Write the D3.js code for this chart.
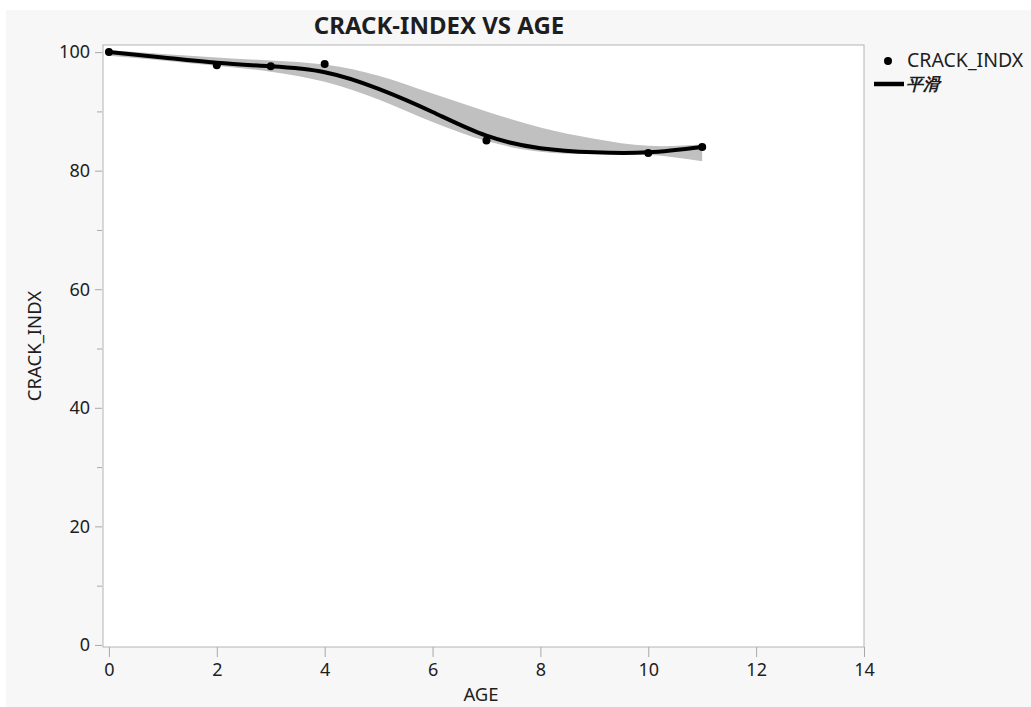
<!DOCTYPE html>
<html>
<head>
<meta charset="utf-8">
<script src="https://cdn.jsdelivr.net/npm/d3@7"></script>
<style>
  html, body { margin: 0; padding: 0; background: #ffffff; }
  svg { display: block; }
  text { font-family: "Noto Sans", "Open Sans", sans-serif; fill: #1e1e1e; }
</style>
</head>
<body>
<svg id="chart" width="1031" height="707"></svg>
<script>
// Observed crack index by pavement age
const ages = [0, 2, 3, 4, 7, 10, 11];
const crackIndex = [100, 97.8, 97.6, 98.0, 85.1, 83.0, 84.0];

// Smoother fit and its confidence band, sampled at whole years
const smoothAges = [0, 1, 2, 3, 4, 5, 6, 7, 8, 9, 10, 11];
const smoothFit = [100.0, 99.1, 98.2, 97.6, 96.6, 93.8, 89.9, 85.9, 83.8, 83.1, 83.1, 84.0];
const bandUpper = [100.3, 99.7, 99.1, 98.6, 97.9, 96.0, 93.0, 90.0, 87.3, 85.4, 84.2, 84.4];
const bandLower = [99.4, 98.6, 97.7, 96.7, 95.0, 92.0, 88.2, 85.0, 83.2, 82.8, 82.7, 81.6];

const xTicks = [0, 2, 4, 6, 8, 10, 12, 14];
const yTicks = [0, 20, 40, 60, 80, 100];
const yMinorTicks = [10, 30, 50, 70, 90];

const svg = d3.select("#chart");

// panel background
svg.append("rect").attr("x", 6).attr("y", 10).attr("width", 1025).attr("height", 697).attr("fill", "#f7f7f7");

const frame = { left: 103, right: 864, top: 45, bottom: 647 };

const x = d3.scaleLinear().domain([-0.11, 14]).range([frame.left, frame.right]);
const y = d3.scaleLinear().domain([-0.35, 101.2]).range([frame.bottom, frame.top]);

svg.append("rect")
  .attr("x", frame.left).attr("y", frame.top)
  .attr("width", frame.right - frame.left).attr("height", frame.bottom - frame.top)
  .attr("fill", "#ffffff").attr("stroke", "#b4b4b4").attr("stroke-width", 1);

// confidence band
const band = smoothAges.map((a, i) => ({ a, lo: bandLower[i], hi: bandUpper[i] }));
svg.append("path")
  .datum(band)
  .attr("fill", "#c0c0c0")
  .attr("d", d3.area().curve(d3.curveNatural).x(d => x(d.a)).y0(d => y(d.lo)).y1(d => y(d.hi)));

// smoother line
const fit = smoothAges.map((a, i) => ({ a, v: smoothFit[i] }));
svg.append("path")
  .datum(fit)
  .attr("fill", "none")
  .attr("stroke", "#000")
  .attr("stroke-width", 4)
  .attr("stroke-linecap", "round")
  .attr("d", d3.line().curve(d3.curveNatural).x(d => x(d.a)).y(d => y(d.v)));

// observed points
svg.append("g").selectAll("circle")
  .data(ages.map((a, i) => ({ a, v: crackIndex[i] })))
  .join("circle")
  .attr("cx", d => x(d.a)).attr("cy", d => y(d.v))
  .attr("r", 4).attr("fill", "#000");

// axes
const xAxis = svg.append("g")
  .attr("transform", `translate(0,${frame.bottom})`)
  .call(d3.axisBottom(x).tickValues(xTicks).tickSize(10).tickPadding(6).tickFormat(d3.format("d")));
const yAxis = svg.append("g")
  .attr("transform", `translate(${frame.left - 1},0)`)
  .call(d3.axisLeft(y).tickValues(yTicks).tickSize(7).tickPadding(5).tickFormat(d3.format("d")));
svg.append("g")
  .attr("transform", `translate(${frame.left - 1},0)`)
  .call(d3.axisLeft(y).tickValues(yMinorTicks).tickSize(5).tickFormat(""))
  .call(g => g.select(".domain").remove())
  .selectAll("line").attr("stroke", "#a8a8a8");

[xAxis, yAxis].forEach(g => {
  g.select(".domain").remove();
  g.selectAll("line").attr("stroke", "#a8a8a8");
  g.selectAll("text").attr("font-size", 18).attr("fill", "#1e1e1e")
    .attr("font-family", "'Noto Sans', sans-serif");
});

// title and axis titles
svg.append("text")
  .attr("x", 439).attr("y", 34)
  .attr("text-anchor", "middle")
  .attr("font-size", 24).attr("font-weight", "bold")
  .text("CRACK-INDEX VS AGE");

svg.append("text")
  .attr("x", 481).attr("y", 701)
  .attr("text-anchor", "middle")
  .attr("font-size", 18.5)
  .text("AGE");

svg.append("text")
  .attr("transform", "translate(41,346) rotate(-90)")
  .attr("text-anchor", "middle")
  .attr("font-size", 18.5)
  .text("CRACK_INDX");

// legend
const legend = svg.append("g");
legend.append("circle").attr("cx", 888).attr("cy", 61).attr("r", 4).attr("fill", "#000");
legend.append("text").attr("x", 907).attr("y", 67).attr("font-size", 19.5).text("CRACK_INDX");
legend.append("line").attr("x1", 874).attr("x2", 904).attr("y1", 84).attr("y2", 84)
  .attr("stroke", "#000").attr("stroke-width", 4.5);
legend.append("text").attr("x", 906).attr("y", 89.5).attr("font-size", 17)
  .attr("font-style", "italic").attr("font-weight", "bold")
  .attr("font-family", "'Noto Sans CJK SC', sans-serif")
  .text("平滑");
</script>
</body>
</html>
